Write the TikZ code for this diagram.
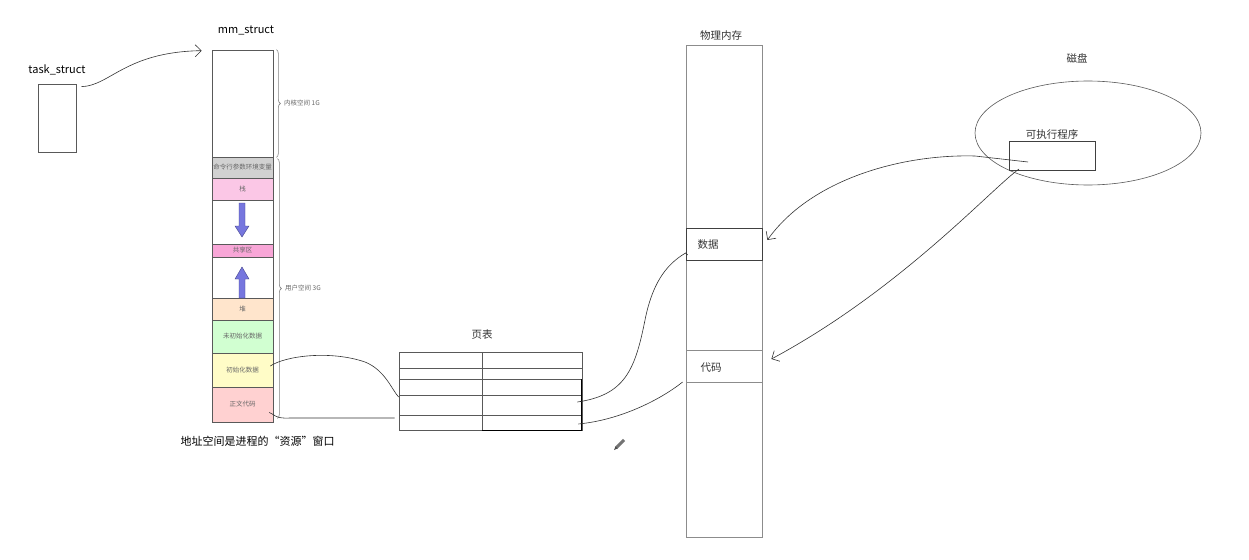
\documentclass[tikz,border=0pt]{standalone}
\usepackage{fontspec}
\setmainfont{Noto Sans CJK SC}
\newfontfamily\cjk{Noto Sans CJK SC}
\usetikzlibrary{arrows.meta,calc,decorations.pathreplacing}
\definecolor{arrowblue}{RGB}{118,118,222}
\definecolor{arrowedge}{RGB}{70,70,140}
\begin{document}
\begin{tikzpicture}[x=1pt,y=-1pt,
  outline/.style={draw=black!65, line width=0.7pt},
  seg/.style={draw=black!65, line width=0.7pt, minimum width=61pt, inner sep=0pt, font=\fontsize{6.5}{7.5}\selectfont\color{black!60}},
  pbox/.style={draw=black!45, line width=0.8pt, inner sep=0pt},
  lbl/.style={font=\fontsize{10.5}{12}\selectfont\color{black!80}},
  hand/.style={draw=black!80, line width=0.6pt},
  barb/.style={-{Straight Barb[length=6pt,width=12pt,line width=0.6pt]}},
  blockarrow/.style={fill=arrowblue, draw=arrowedge, line width=0.4pt},
  brc/.style={draw=black!50, line width=0.6pt, decorate, decoration={brace, amplitude=4pt}},
  side/.style={font=\fontsize{6.5}{7.5}\selectfont\color{black!60}, anchor=west, inner sep=1pt}
]
\useasboundingbox (0,0) rectangle (1249,559);
\fill[white] (0,0) rectangle (1249,559);

% task_struct
\node[outline, minimum width=38pt, minimum height=68pt, inner sep=0pt] (task) at (57,118) {};
\node[font=\fontsize{11}{13}\selectfont] (tasklbl) at (57,70) {task\_struct};

% mm_struct column
\node[font=\fontsize{11}{13}\selectfont] (mmlbl) at (246,30) {mm\_struct};
\node[seg, minimum height=107pt] (kernel) at (242.5,103.5) {};
\node[seg, minimum height=21pt, fill=black!18] (cmd) at (242.5,167.5) {命令行参数环境变量};
\node[seg, minimum height=22pt, fill=magenta!22] (stack) at (242.5,189) {栈};
\node[seg, minimum height=44pt] (gap1) at (242.5,222) {};
\node[seg, minimum height=13pt, fill=magenta!35] (shared) at (242.5,250.5) {共享区};
\node[seg, minimum height=41pt] (gap2) at (242.5,277.5) {};
\node[seg, minimum height=22pt, fill=orange!20] (heap) at (242.5,309) {堆};
\node[seg, minimum height=33pt, fill=green!18] (bss) at (242.5,336.5) {未初始化数据};
\node[seg, minimum height=34pt, fill=yellow!22] (data) at (242.5,370) {初始化数据};
\node[seg, minimum height=35pt, fill=red!18] (text) at (242.5,404.5) {正文代码};

% block arrows
\path[blockarrow] (239,203) -- (245,203) -- (245,226) -- (249,226) -- (242,237) -- (235,226) -- (239,226) -- cycle;
\path[blockarrow] (239,298) -- (245,298) -- (245,279) -- (249,279) -- (242,267) -- (235,279) -- (239,279) -- cycle;

% braces
\draw[brc] ($(kernel.north east)+(3,0)$) -- ($(kernel.south east)+(3,0)$);
\node[side] (klbl) at (283,103.5) {内核空间 1G};
\draw[brc] ($(cmd.north east)+(4,2)$) -- ($(text.south east)+(4,-4)$);
\node[side] (ulbl) at (284,288) {用户空间 3G};

% caption
\node[font=\fontsize{11}{13}\selectfont, anchor=west] (cap) at (177,441) {地址空间是进程的“资源”窗口};

% page table
\node[lbl] (ptlbl) at (482,335) {页表};
\node[pbox, draw=black!65, minimum width=183pt, minimum height=78pt] (pt) at (490.5,391) {};
\draw[black!65, line width=0.6pt] (482,352) -- (482,430);
\foreach \yy in {368,379,395,415} \draw[black!65, line width=0.6pt] (399,\yy) -- (582,\yy);
\draw[black, line width=0.9pt] (482,430) -- (581,430) -- (581,379);

% physical memory
\node[lbl] (pmlbl) at (721,36) {物理内存};
\node[pbox, minimum width=76pt, minimum height=492pt] (pm) at (724,291) {};
\node[pbox, draw=black!75, minimum width=76pt, minimum height=32pt] (pdata) at (724,244) {};
\node[lbl, anchor=west] (pdatalbl) at (694,245) {数据};
\node[pbox, minimum width=76pt, minimum height=32pt] (pcode) at (724,366) {};
\node[lbl, anchor=west] (pcodelbl) at (697,368) {代码};

% disk
\node[lbl] (disklbl) at (1077,58) {磁盘};
\draw[black!65, line width=0.6pt] (1088,133) ellipse (113 and 52);
\node[pbox, draw=black!75, minimum width=86pt, minimum height=29pt] (exe) at (1052,156) {};
\node[lbl, anchor=south] (exelbl) at (1052,143) {可执行程序};

% hand-drawn connectors
\draw[hand, barb] ($(task.north east)+(5,3)$) .. controls (110,86) and (125,52) .. ($(kernel.north west)+(-10,1)$);
\draw[hand] ($(data.east)+(-3,-4)$) .. controls (285,356) and (330,350) .. (365,362) .. controls (385,370) and (392,390) .. ($(pt.west)+(0,6)$);
\draw[hand] ($(text.east)+(-4,8)$) .. controls (274,414) and (275,419) .. (290,418) -- ($(pt.west)+(-4,27)$);
\draw[hand] ($(pt.east)+(-5,11)$) .. controls (625,395) and (635,370) .. (645,320) .. controls (652,285) and (665,265) .. ($(pdata.west)+(0,9)$) -- ++(2,2);
\draw[hand] ($(pt.east)+(-4,33)$) .. controls (620,420) and (660,400) .. ($(pcode.west)+(-3,16)$);
\draw[hand, barb] ($(exe.center)+(-24,6)$) -- (975,156) .. controls (900,154) and (810,180) .. ($(pdata.east)+(5,-4)$);
\draw[hand, barb] ($(exe.center)+(-33,13)$) .. controls (990,190) and (900,290) .. ($(pcode.east)+(9,-7)$);

% pencil cursor
\draw[black!55, line width=3pt] (616,448) -- (624,440);
\fill[black!70] (614,450) -- (615.5,446.5) -- (617.5,448.5) -- cycle;
\end{tikzpicture}
\end{document}
